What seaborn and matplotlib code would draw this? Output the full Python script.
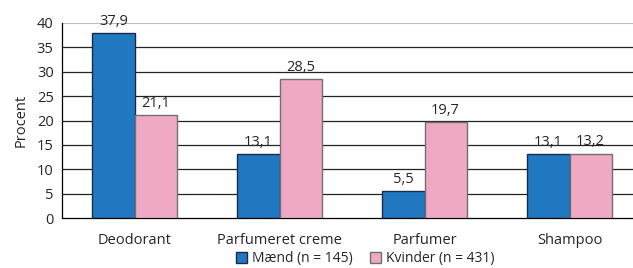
import matplotlib
matplotlib.use('Agg')
import matplotlib.pyplot as plt
import seaborn as sns
import pandas as pd
from matplotlib.patches import Patch

categories = ['Deodorant', 'Parfumeret creme', 'Parfumer', 'Shampoo']
groups = ['Mænd (n = 145)', 'Kvinder (n = 431)']
maend = [37.9, 13.1, 5.5, 13.1]
kvinder = [21.1, 28.5, 19.7, 13.2]

colors = ['#1f78c0', '#f0a9c5']
edges = ['#1b2a48', '#707070']

df = pd.DataFrame({
    'kategori': categories * 2,
    'gruppe': [groups[0]] * 4 + [groups[1]] * 4,
    'procent': maend + kvinder,
})

sns.set_style('white')
plt.rcParams['font.family'] = ['Open Sans', 'DejaVu Sans']

fig = plt.figure(figsize=(6.33, 2.68), dpi=100)
ax = fig.add_axes([62 / 633, 1 - 218 / 268, 580 / 633, 195 / 268])

sns.barplot(data=df, x='kategori', y='procent', hue='gruppe',
            palette=colors, saturation=1, width=0.58, ax=ax, legend=False, zorder=3)

for i, cont in enumerate(ax.containers):
    for p in cont:
        p.set_edgecolor(edges[i])
        p.set_linewidth(1.0)
    ax.bar_label(cont, labels=[f'{v:.1f}'.replace('.', ',') for v in cont.datavalues],
                 padding=3, fontsize=10.5)

ax.set_ylim(0, 40)
ax.set_xlim(-0.5, 3.5)
ax.set_yticks(range(0, 41, 5))
for y in range(5, 40, 5):
    ax.axhline(y, color='#222222', lw=0.9, zorder=1)
ax.axhline(40, color='#bbbbbb', lw=1.5, zorder=1)

ax.set_xticks([-0.5, 0.5, 1.5, 2.5], minor=True)
ax.set_xticks(range(4))
ax.set_xticklabels(categories, fontsize=10.5)
ax.tick_params(axis='x', which='major', length=0, pad=11)
ax.tick_params(axis='x', which='minor', length=4, color='black', width=0.9)
ax.tick_params(axis='y', length=4, color='black', width=0.9, labelsize=10.5, pad=2)
ax.set_xlabel('')
ax.set_ylabel('Procent', fontsize=10.5, labelpad=6)

for s in ['top', 'right']:
    ax.spines[s].set_visible(False)
for s in ['left', 'bottom']:
    ax.spines[s].set_color('black')
    ax.spines[s].set_linewidth(0.9)

handles = [Patch(facecolor=colors[i], edgecolor=edges[i], label=groups[i]) for i in range(2)]
fig.legend(handles=handles, loc='center', bbox_to_anchor=(0.577, 0.035), ncol=2,
           frameon=False, fontsize=10, handlelength=0.8, handleheight=0.8,
           handletextpad=0.4, columnspacing=1.2)

plt.savefig('out.png', dpi=100)
